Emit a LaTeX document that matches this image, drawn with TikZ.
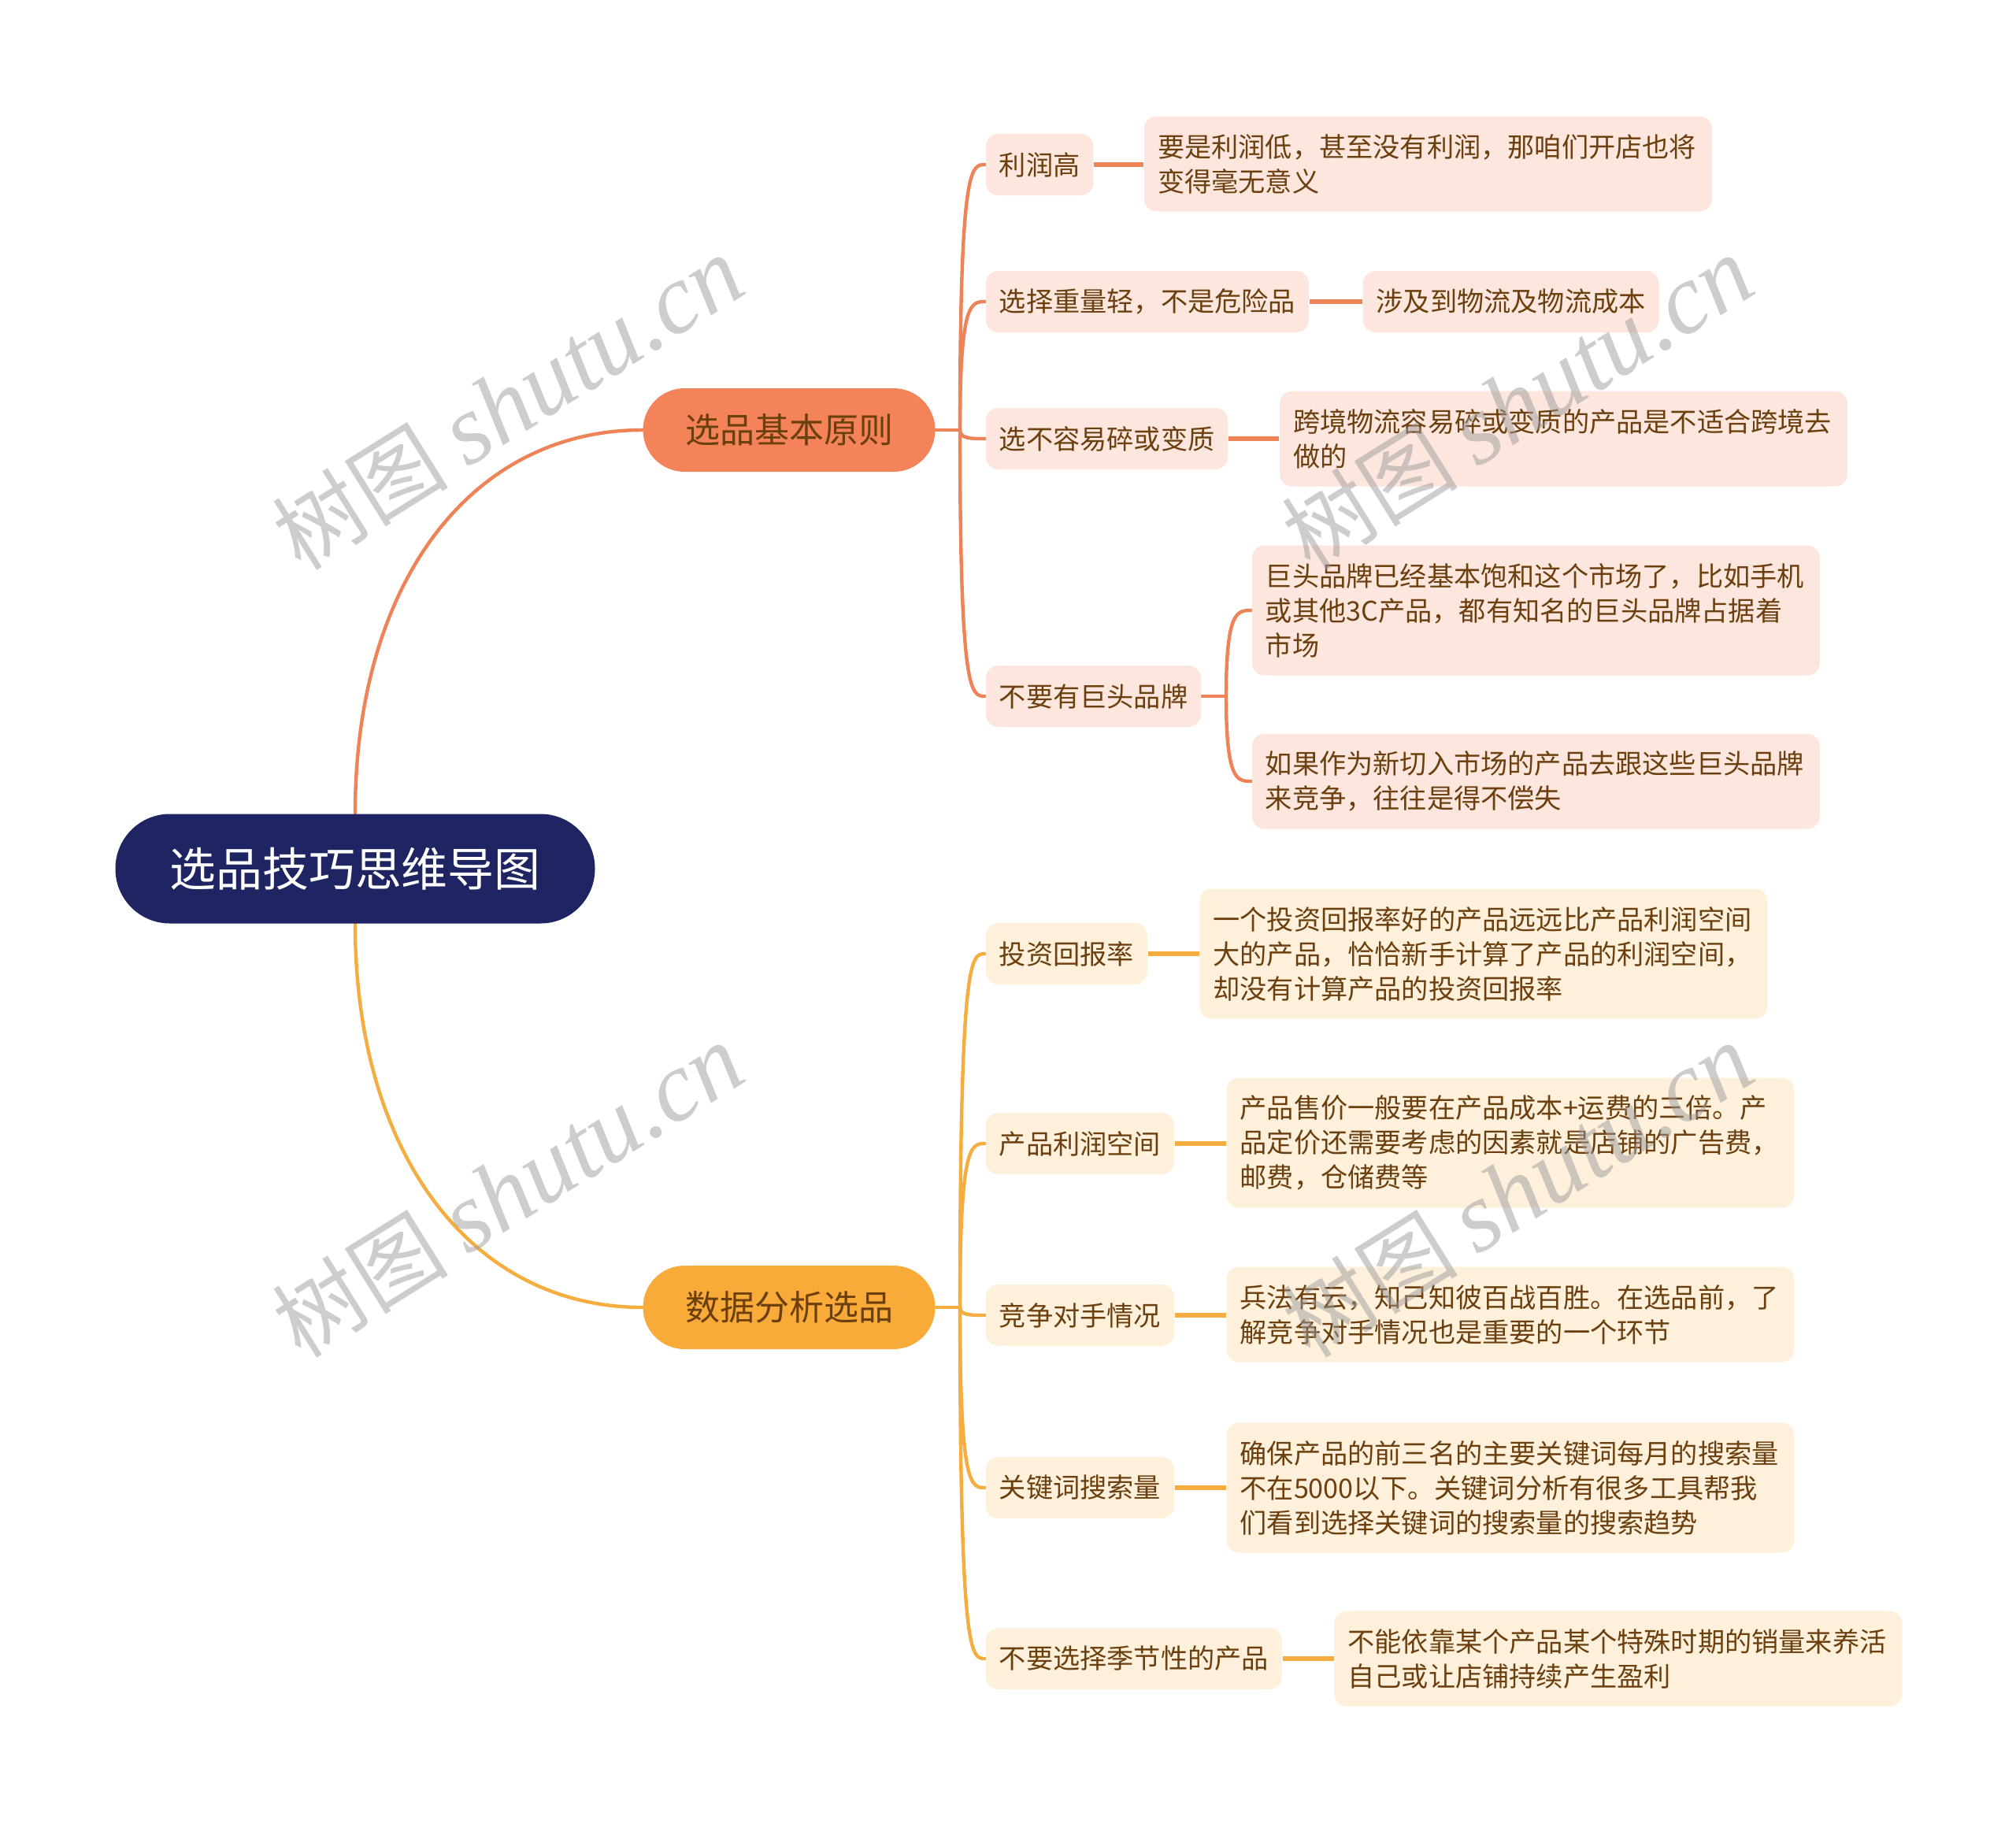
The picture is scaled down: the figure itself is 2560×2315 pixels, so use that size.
\documentclass[tikz,border=0pt]{standalone}
\usepackage{fontspec}
\newfontfamily\cjk{Noto Sans CJK SC}
\newfontfamily\wmserif{Liberation Serif}
\usetikzlibrary{calc}
\pgfdeclarelayer{background}
\pgfsetlayers{background,main}
\definecolor{rootc}{HTML}{1F2462}
\definecolor{aorg}{HTML}{F5835A}
\definecolor{aline}{HTML}{EE8358}
\definecolor{alight}{HTML}{FDE6DD}
\definecolor{borg}{HTML}{F9AB3A}
\definecolor{bline}{HTML}{F5AD40}
\definecolor{blight}{HTML}{FEF0DB}
\definecolor{txt}{HTML}{6B3F0E}
\definecolor{wmc}{HTML}{9C9C9C}
\begin{document}
\begin{tikzpicture}[x=0.25pt,y=-0.25pt,
  rootbox/.style={fill=rootc, rounded corners=17.3pt, minimum width=152.25pt, minimum height=34.75pt, text=white, font=\cjk\fontsize{14.7}{17}\selectfont, inner sep=0pt},
  branchbox/.style={rounded corners=13.2pt, minimum width=92.75pt, minimum height=26.5pt, text=txt, font=\cjk\fontsize{11}{13}\selectfont, inner sep=0pt},
  midbox/.style={rounded corners=4pt, minimum height=19.5pt, inner xsep=4.25pt, inner ysep=0pt, text=txt, font=\cjk\fontsize{8.55}{11}\selectfont, anchor=west},
  leafbox/.style={rounded corners=4pt, inner xsep=4.25pt, inner ysep=0pt, text width=171.75pt, align=left, text=txt, font=\cjk\fontsize{8.55}{11}\selectfont, anchor=west},
  aconn/.style={draw=aline, line width=1.1pt, line cap=round},
  bconn/.style={draw=bline, line width=1.1pt, line cap=round},
  ahline/.style={draw=aline, line width=1.4pt},
  bhline/.style={draw=bline, line width=1.4pt},
  wmark/.style={text=wmc, text opacity=0.5, rotate=32, inner sep=0pt}
]
\useasboundingbox (0,0) rectangle (2560,2315);

% root and main branches
\node[rootbox] (root) at (451,1103) {选品技巧思维导图};
\node[branchbox, fill=aorg] (b1) at (1002,546) {选品基本原则};
\node[branchbox, fill=borg] (b2) at (1002,1660) {数据分析选品};

% branch 1
\node[midbox, fill=alight] (a1) at (1251,209) {利润高};
\node[leafbox, fill=alight, minimum height=30.25pt] (a1x) at ($(a1.east)+(63,-1)$) {要是利润低，甚至没有利润，那咱们开店也将\\变得毫无意义};
\node[midbox, fill=alight] (a2) at (1251,383) {选择重量轻，不是危险品};
\node[midbox, fill=alight] (a2x) at ($(a2.east)+(67,0)$) {涉及到物流及物流成本};
\node[midbox, fill=alight] (a3) at (1251,557) {选不容易碎或变质};
\node[leafbox, fill=alight, minimum height=30.25pt] (a3x) at ($(a3.east)+(64,0)$) {跨境物流容易碎或变质的产品是不适合跨境去\\做的};
\node[midbox, fill=alight] (a4) at (1251,884) {不要有巨头品牌};
\node[leafbox, fill=alight, minimum height=41.25pt] (a4x) at (1589,775) {巨头品牌已经基本饱和这个市场了，比如手机\\或其他3C产品，都有知名的巨头品牌占据着\\市场};
\node[leafbox, fill=alight, minimum height=30.25pt] (a4y) at (1589,992) {如果作为新切入市场的产品去跟这些巨头品牌\\来竞争，往往是得不偿失};

% branch 2
\node[midbox, fill=blight] (c1) at (1251,1211) {投资回报率};
\node[leafbox, fill=blight, minimum height=41.25pt] (c1x) at ($(c1.east)+(65,0)$) {一个投资回报率好的产品远远比产品利润空间\\大的产品，恰恰新手计算了产品的利润空间，\\却没有计算产品的投资回报率};
\node[midbox, fill=blight] (c2) at (1251,1452) {产品利润空间};
\node[leafbox, fill=blight, minimum height=41.25pt] (c2x) at ($(c2.east)+(65,-1)$) {产品售价一般要在产品成本+运费的三倍。产\\品定价还需要考虑的因素就是店铺的广告费，\\邮费，仓储费等};
\node[midbox, fill=blight] (c3) at (1251,1670) {竞争对手情况};
\node[leafbox, fill=blight, minimum height=30.25pt] (c3x) at ($(c3.east)+(65,-1)$) {兵法有云，知己知彼百战百胜。在选品前，了\\解竞争对手情况也是重要的一个环节};
\node[midbox, fill=blight] (c4) at (1251,1889) {关键词搜索量};
\node[leafbox, fill=blight, minimum height=41.25pt] (c4x) at ($(c4.east)+(65,0)$) {确保产品的前三名的主要关键词每月的搜索量\\不在5000以下。关键词分析有很多工具帮我\\们看到选择关键词的搜索量的搜索趋势};
\node[midbox, fill=blight] (c5) at (1251,2106) {不要选择季节性的产品};
\node[leafbox, fill=blight, minimum height=30.25pt] (c5x) at ($(c5.east)+(65,0)$) {不能依靠某个产品某个特殊时期的销量来养活\\自己或让店铺持续产生盈利};

% spine coordinates
\coordinate (s1) at (1219,546);
\coordinate (s2) at (1219,1660);
\coordinate (s4) at (1557,884);

\begin{pgfonlayer}{background}
\fill[white] (0,0) rectangle (2560,2315);
% root to branches
\draw[aconn] (root.north) .. controls (451,740) and (598,546) .. (b1.west);
\draw[bconn] (root.south) .. controls (451,1464) and (598,1660) .. (b2.west);
% branch 1 spine
\draw[aconn] (b1.east) -- (s1);
\foreach \n/\cy in {a1/209,a2/383,a3/557,a4/884}{
  \draw[aconn] (s1) .. controls (1219,\cy) and (1233,\cy) .. (\n.west);
}
\draw[ahline] (a1.east) -- (a1.east -| a1x.west);
\draw[ahline] (a2.east) -- (a2x.west);
\draw[ahline] (a3.east) -- (a3.east -| a3x.west);
\draw[aconn] (a4.east) -- (s4);
\draw[aconn] (s4) .. controls (1557,775) and (1571,775) .. (a4x.west);
\draw[aconn] (s4) .. controls (1557,992) and (1571,992) .. (a4y.west);
% branch 2 spine
\draw[bconn] (b2.east) -- (s2);
\foreach \n/\cy in {c1/1211,c2/1452,c3/1670,c4/1889,c5/2106}{
  \draw[bconn] (s2) .. controls (1219,\cy) and (1233,\cy) .. (\n.west);
}
\foreach \n in {c1,c2,c3,c4,c5}{
  \draw[bhline] (\n.east) -- (\n.east -| \n x.west);
}
\end{pgfonlayer}

% watermarks
\node[wmark] (w1) at (645,512) {\fontsize{28}{32}\selectfont\cjk 树图\ \wmserif\itshape\fontsize{31.5}{34}\selectfont shutu.cn};
\node[wmark] (w2) at (1927,512) {\fontsize{28}{32}\selectfont\cjk 树图\ \wmserif\itshape\fontsize{31.5}{34}\selectfont shutu.cn};
\node[wmark] (w3) at (645,1512) {\fontsize{28}{32}\selectfont\cjk 树图\ \wmserif\itshape\fontsize{31.5}{34}\selectfont shutu.cn};
\node[wmark] (w4) at (1927,1512) {\fontsize{28}{32}\selectfont\cjk 树图\ \wmserif\itshape\fontsize{31.5}{34}\selectfont shutu.cn};
\end{tikzpicture}
\end{document}
